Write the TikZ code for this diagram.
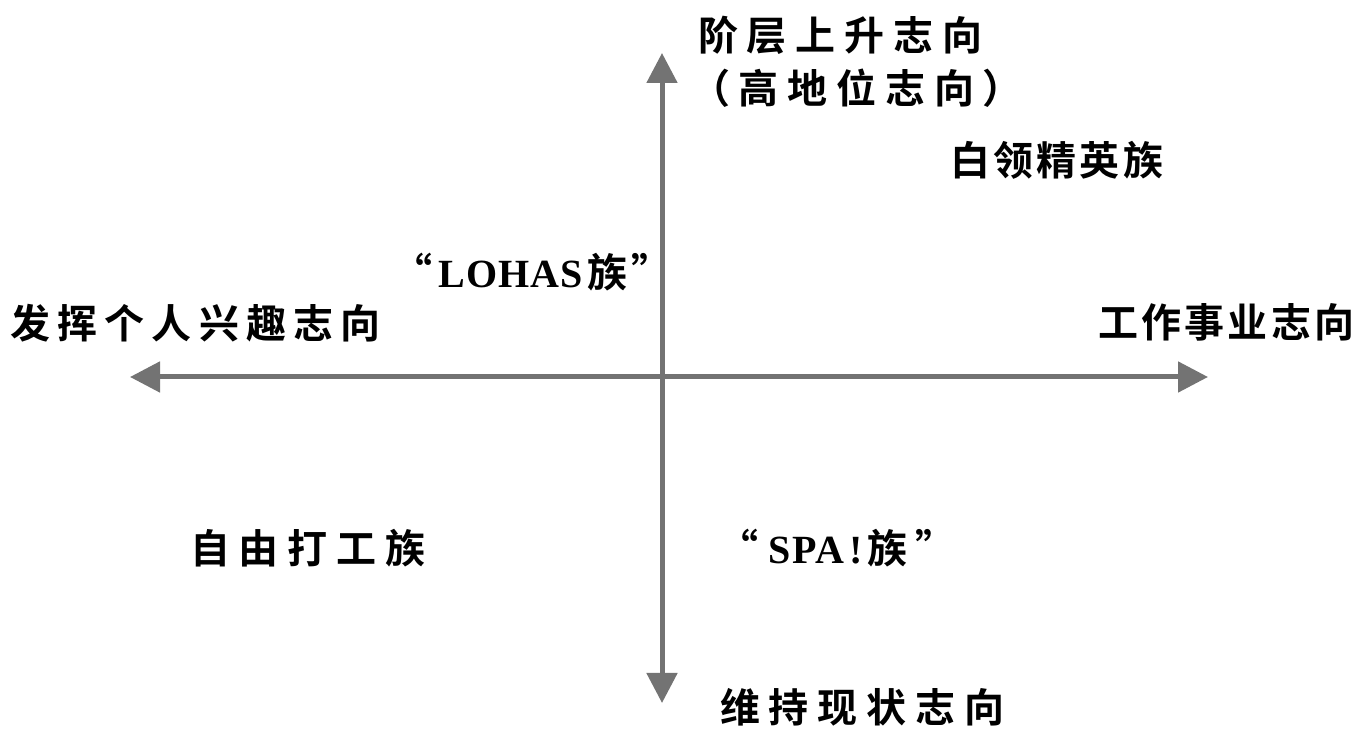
\documentclass[tikz,border=0pt]{standalone}
\usepackage{fontspec}
\setmainfont{Noto Sans CJK SC}[BoldFont={Noto Sans CJK SC Bold},LetterSpace=22]
\newfontfamily\latserif{Liberation Serif}
\usetikzlibrary{arrows.meta}
\tikzset{
  lbl/.style={font=\fontsize{40pt}{44pt}\selectfont\bfseries, inner sep=0pt, align=left},
  tight/.style={font=\fontsize{40pt}{44pt}\selectfont\bfseries\addfontfeature{LetterSpace=8}},
  axis/.style={draw=black!55, line width=5pt, {Triangle[length=30pt,width=30pt]}-{Triangle[length=30pt,width=30pt]}}
}
\begin{document}
\begin{tikzpicture}[x=1pt,y=1pt]
\useasboundingbox (0,0) rectangle (1359,733);
\coordinate (L) at (130,356);
\coordinate (R) at (1208,356);
\coordinate (T) at (662,680);
\coordinate (B) at (662,30);
\draw[axis] (L) -- (R);
\draw[axis] (T) -- (B);
\node[lbl, anchor=west] (up1) at (698,698) {阶层上升志向};
\node[lbl, anchor=west] (up2) at (690,645) {（高地位志向）};
\node[lbl, tight, anchor=west] (wc) at (950,573) {白领精英族};
\node[lbl, anchor=west] (lohas) at (392,461) {\addfontfeature{LetterSpace=0}“\hspace{6pt}{\latserif\bfseries\addfontfeature{LetterSpace=3}LOHAS}\hspace{4pt}族\hspace{4pt}”};
\node[lbl, anchor=west, font=\fontsize{40pt}{44pt}\selectfont\bfseries\addfontfeature{LetterSpace=18}] (left) at (10,410) {发挥个人兴趣志向};
\node[lbl, tight, anchor=west] (right) at (1098,411) {工作事业志向};
\node[lbl, anchor=west] (free) at (190,185) {自由打工族};
\node[lbl, anchor=west] (spa) at (718,185) {\addfontfeature{LetterSpace=0}“\hspace{10pt}{\latserif\bfseries\addfontfeature{LetterSpace=4}SPA\hspace{6pt}!}\hspace{4pt}族\hspace{8pt}”};
\node[lbl, anchor=west] (down) at (720,26) {维持现状志向};
\end{tikzpicture}
\end{document}
